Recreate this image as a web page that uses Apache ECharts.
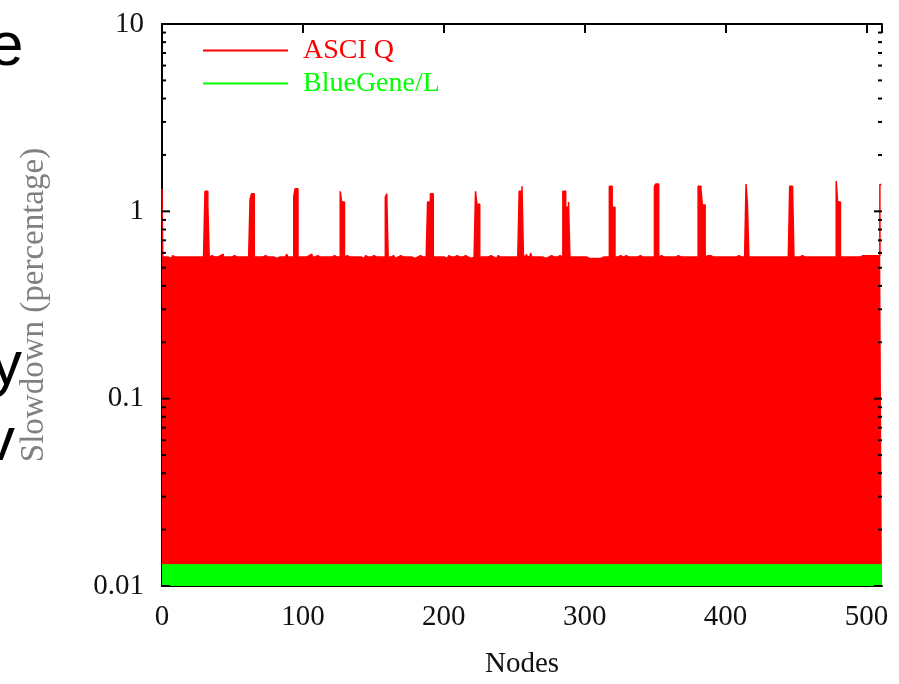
<!DOCTYPE html>
<html>
<head>
<meta charset="utf-8">
<script src="https://cdn.jsdelivr.net/npm/echarts@6/dist/echarts.min.js"></script>
<style>html,body{margin:0;padding:0;background:#fff}#c{width:899px;height:684px}</style>
</head>
<body>
<div id="c"></div>
<script>
// ASCI Q slowdown per node (nodes 0..511)
var asciQ = [
  1.32,0.57,0.57,0.58,0.57,0.57,0.56,0.57, 0.58,0.57,0.57,0.57,0.58,0.57,0.56,0.57, 0.57,0.57,0.57,0.57,0.57,0.57,0.57,0.57, 0.57,0.57,0.57,0.57,0.57,0.57,0.57,1.28,
  1.28,1.09,0.57,0.58,0.57,0.57,0.56,0.57, 0.57,0.58,0.57,0.59,0.57,0.57,0.58,0.57, 0.56,0.57,0.57,0.58,0.57,0.57,0.57,0.57, 0.57,0.57,0.58,0.57,0.57,0.57,0.57,1.16,
  1.24,1.24,0.57,0.57,0.58,0.57,0.56,0.57, 0.57,0.58,0.57,0.57,0.56,0.57,0.58,0.57, 0.57,0.56,0.57,0.57,0.58,0.57,0.57,0.57, 0.57,0.59,0.57,0.57,0.57,0.57,1.20,1.32,
  1.32,0.57,0.57,0.58,0.57,0.57,0.57,0.57, 0.58,0.57,0.59,0.57,0.57,0.57,0.58,0.57, 0.57,0.56,0.57,0.57,0.57,0.58,0.57,0.57, 0.57,0.57,0.58,0.57,0.57,0.57,0.57,1.28,
  1.12,1.12,0.57,0.58,0.57,0.57,0.56,0.57, 0.58,0.57,0.57,0.57,0.58,0.57,0.57,0.56, 0.57,0.58,0.57,0.57,0.57,0.57,0.58,0.57, 0.57,0.57,0.57,0.57,0.57,0.57,0.57,1.19,
  1.24,0.57,0.57,0.57,0.58,0.57,0.56,0.57, 0.57,0.58,0.57,0.57,0.57,0.57,0.58,0.57, 0.57,0.57,0.57,0.56,0.57,0.57,0.57,0.58, 0.57,0.57,0.57,0.57,0.57,1.12,1.12,1.24,
  1.24,0.57,0.57,0.58,0.57,0.57,0.57,0.58, 0.57,0.57,0.56,0.57,0.58,0.57,0.57,0.57, 0.57,0.58,0.57,0.57,0.57,0.57,0.57,0.58, 0.57,0.57,0.57,0.56,0.57,0.57,0.57,1.28,
  1.09,1.09,0.57,0.57,0.58,0.57,0.57,0.57, 0.57,0.58,0.57,0.57,0.57,0.56,0.57,0.58, 0.57,0.57,0.57,0.57,0.57,0.58,0.57,0.57, 0.57,0.57,0.57,0.57,0.57,0.57,1.28,1.28,
  1.36,0.58,0.57,0.59,0.57,0.58,0.60,0.57, 0.57,0.58,0.57,0.57,0.57,0.58,0.57,0.57, 0.56,0.57,0.57,0.57,0.58,0.57,0.57,0.57, 0.57,0.57,0.58,0.57,0.57,1.28,1.28,1.05,
  1.05,1.12,0.57,0.57,0.58,0.57,0.57,0.57, 0.56,0.57,0.57,0.57,0.57,0.57,0.57,0.56, 0.56,0.56,0.56,0.56,0.56,0.56,0.56,0.56, 0.57,0.57,0.57,0.57,0.57,0.57,1.36,1.36,
  1.05,1.05,0.57,0.57,0.57,0.58,0.57,0.57, 0.57,0.58,0.57,0.57,0.57,0.57,0.58,0.57, 0.57,0.57,0.57,0.58,0.57,0.57,0.57,0.57, 0.57,0.57,0.58,0.57,0.57,0.57,1.36,1.40,
  1.40,0.57,0.58,0.57,0.57,0.57,0.57,0.58, 0.57,0.57,0.57,0.57,0.57,0.57,0.58,0.57, 0.57,0.57,0.57,0.58,0.57,0.57,0.57,0.57, 0.57,0.57,0.57,0.57,0.57,1.36,1.36,1.31,
  1.08,1.08,0.57,0.58,0.57,0.58,0.57,0.57, 0.57,0.57,0.57,0.57,0.57,0.57,0.57,0.57, 0.57,0.57,0.58,0.57,0.57,0.57,0.57,0.57, 0.57,0.58,0.57,0.57,0.57,0.57,0.57,1.40,
  1.09,0.57,0.57,0.57,0.57,0.58,0.57,0.57, 0.57,0.57,0.57,0.57,0.57,0.58,0.57,0.57, 0.57,0.57,0.57,0.57,0.57,0.57,0.57,0.57, 0.57,0.57,0.57,0.57,0.57,0.57,1.36,1.36,
  1.36,0.57,0.57,0.57,0.57,0.57,0.58,0.57, 0.57,0.57,0.57,0.57,0.57,0.58,0.57,0.57, 0.57,0.57,0.57,0.57,0.57,0.57,0.57,0.57, 0.57,0.57,0.57,0.57,0.57,0.57,0.57,1.45,
  1.12,1.12,0.57,0.57,0.58,0.57,0.57,0.57, 0.57,0.57,0.57,0.57,0.57,0.57,0.57,0.57, 0.57,0.58,0.58,0.58,0.58,0.58,0.58,0.58, 0.58,0.58,0.58,0.58,0.57,0.58,1.39,1.39
];
// BlueGene/L: flat level across all nodes
var blueGeneNodes = [0, 511];
var blueGeneValues = [0.013, 0.013];

var seriesNames = ['ASCI Q', 'BlueGene/L'];
var xTickInterval = 100;
var yMin = 0.01, yMax = 10;

var FONT = "'Liberation Serif','Times New Roman',serif";

var asciData = asciQ.map(function (v, i) { return [i, v]; });
var bgData = blueGeneNodes.map(function (n, i) { return [n, blueGeneValues[i]]; });

// y tick positions (major decades and 2..9 minors) for inward ticks drawn above the fill
var yTicks = [];
for (var d = yMin; d < yMax * 1.0001; d *= 10) {
  yTicks.push([0, +d.toPrecision(3), 8]);
  if (d < yMax * 0.999) {
    for (var k = 2; k <= 9; k++) yTicks.push([0, +(d * k).toPrecision(3), 4]);
  }
}

var chart = echarts.init(document.getElementById('c'), null, {renderer: 'canvas'});
chart.setOption({
  animation: false,
  backgroundColor: '#fff',
  grid: {left: 162, right: 17, top: 24, bottom: 96},
  legend: {
    orient: 'vertical',
    left: 198,
    top: 31,
    icon: 'rect',
    itemWidth: 85,
    itemHeight: 2,
    itemGap: 4,
    selectedMode: false,
    textStyle: {fontFamily: FONT, fontSize: 28, lineHeight: 29, padding: [0, 0, 0, 10]},
    data: [
      {name: seriesNames[0], textStyle: {color: '#ff0000'}},
      {name: seriesNames[1], textStyle: {color: '#00ff00'}}
    ]
  },
  xAxis: [{
    type: 'value', min: 0, max: 511, interval: xTickInterval, position: 'bottom',
    name: 'Nodes', nameLocation: 'middle', nameGap: 64,
    nameTextStyle: {fontFamily: FONT, fontSize: 29, color: '#111'},
    axisLine: {show: true, lineStyle: {color: '#000', width: 2}},
    axisTick: {show: true, inside: true, length: 9, lineStyle: {color: '#000', width: 2}},
    axisLabel: {show: true, margin: 17, fontFamily: FONT, fontSize: 29, color: '#111', showMaxLabel: false},
    splitLine: {show: false}
  }, {
    type: 'value', min: 0, max: 511, interval: xTickInterval, position: 'top',
    axisLine: {show: true, lineStyle: {color: '#000', width: 2}},
    axisTick: {show: true, inside: true, length: 9, lineStyle: {color: '#000', width: 2}},
    axisLabel: {show: false},
    splitLine: {show: false}
  }],
  yAxis: [{
    type: 'log', logBase: 10, min: yMin, max: yMax, position: 'left',
    name: 'Slowdown (percentage)', nameLocation: 'middle', nameGap: 111, nameRotate: 90,
    nameTextStyle: {fontFamily: FONT, fontSize: 33, color: '#808080'},
    axisLine: {show: true, lineStyle: {color: '#000', width: 2}},
    axisTick: {show: false},
    axisLabel: {show: true, margin: 18, fontFamily: FONT, fontSize: 29, color: '#111'},
    splitLine: {show: false}
  }, {
    type: 'log', logBase: 10, min: yMin, max: yMax, position: 'right',
    axisLine: {show: true, lineStyle: {color: '#000', width: 2}},
    axisTick: {show: false},
    axisLabel: {show: false},
    splitLine: {show: false}
  }],
  series: [{
    name: seriesNames[0],
    type: 'line',
    xAxisIndex: 0, yAxisIndex: 0,
    data: asciData,
    step: 'middle',
    showSymbol: false,
    symbol: 'none',
    lineStyle: {color: '#ff0000', width: 1.5},
    itemStyle: {color: '#ff0000'},
    areaStyle: {color: '#ff0000', opacity: 1, origin: 'start'},
    z: 2
  }, {
    name: seriesNames[1],
    type: 'line',
    xAxisIndex: 0, yAxisIndex: 0,
    data: bgData,
    showSymbol: false,
    symbol: 'none',
    lineStyle: {color: '#00ff00', width: 1},
    itemStyle: {color: '#00ff00'},
    areaStyle: {color: '#00ff00', opacity: 1, origin: 'start'},
    z: 3
  }, {
    type: 'custom',
    xAxisIndex: 0, yAxisIndex: 0,
    data: yTicks,
    encode: {x: 0, y: 1},
    clip: false,
    silent: true,
    z: 10,
    renderItem: function (params, api) {
      var v = api.value(1), len = api.value(2);
      var pl = api.coord([0, v]);
      var pr = api.coord([511, v]);
      var st = {stroke: '#000', lineWidth: 2};
      return {
        type: 'group',
        children: [
          {type: 'line', shape: {x1: pl[0], y1: pl[1], x2: pl[0] + len, y2: pl[1]}, style: st},
          {type: 'line', shape: {x1: pr[0], y1: pr[1], x2: pr[0] - len, y2: pr[1]}, style: st}
        ]
      };
    }
  }],
  graphic: [
    {type: 'text', left: -11, top: 17, style: {text: 'e', font: "62px 'Liberation Sans', Arial, sans-serif", fill: '#000'}},
    {type: 'text', left: -9, top: 336, style: {text: 'y', font: "62px 'Liberation Sans', Arial, sans-serif", fill: '#000'}},
    {type: 'text', left: -16, top: 412, style: {text: 'v', font: "62px 'Liberation Sans', Arial, sans-serif", fill: '#000'}}
  ]
});
</script>
</body>
</html>
